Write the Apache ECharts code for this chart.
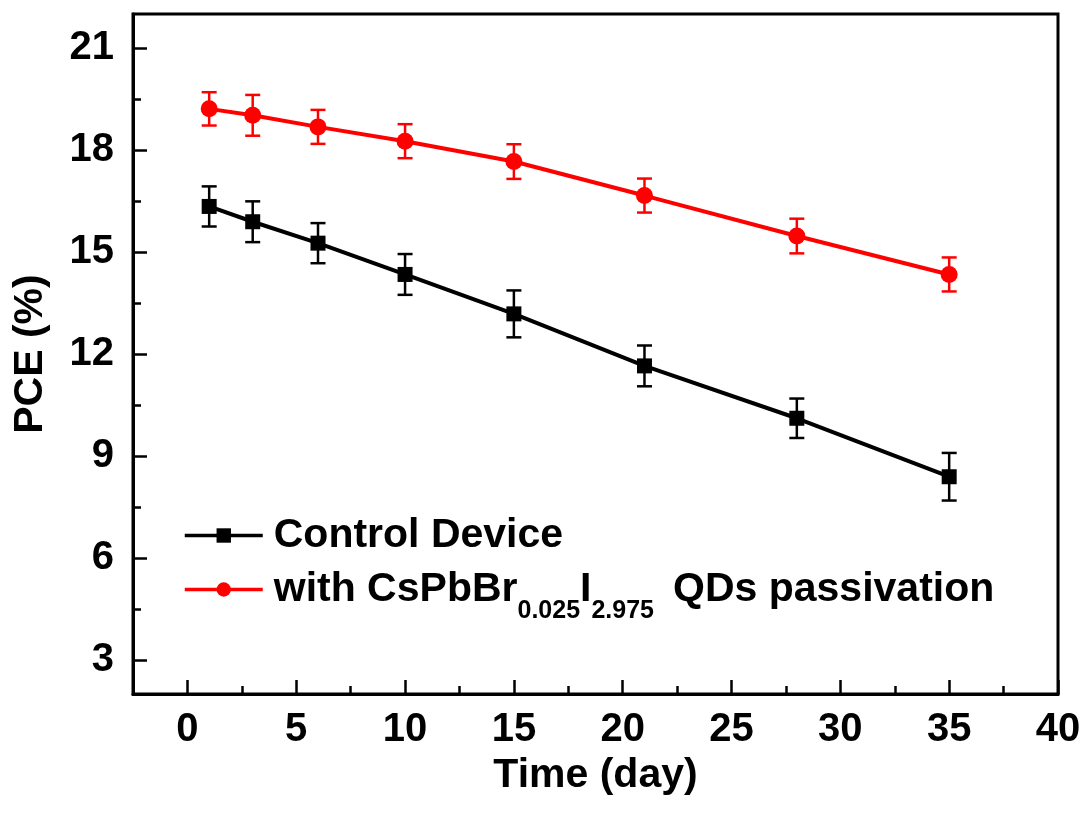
<!DOCTYPE html>
<html>
<head>
<meta charset="utf-8">
<script src="https://cdn.jsdelivr.net/npm/echarts@6/dist/echarts.min.js"></script>
<style>
html,body{margin:0;padding:0;background:#fff;}
#chart{width:1085px;height:822px;}
</style>
</head>
<body>
<div id="chart"></div>
<script>
var days = [1, 3, 6, 10, 15, 21, 28, 35];
var controlPCE = [16.34, 15.89, 15.26, 14.34, 13.18, 11.65, 10.11, 8.39];
var controlErr = [0.59, 0.60, 0.59, 0.60, 0.69, 0.60, 0.58, 0.70];
var passPCE = [19.21, 19.02, 18.68, 18.26, 17.66, 16.66, 15.47, 14.34];
var passErr = [0.49, 0.60, 0.50, 0.50, 0.51, 0.50, 0.51, 0.50];
var xMajorTicks = [0, 5, 10, 15, 20, 25, 30, 35, 40];
var xMinorTicks = [2.5, 7.5, 12.5, 17.5, 22.5, 27.5, 32.5, 37.5];
var yMajorTicks = [3, 6, 9, 12, 15, 18, 21];
var yMinorTicks = [4.5, 7.5, 10.5, 13.5, 16.5, 19.5];

var FONT = '"Liberation Sans", Arial, sans-serif';

function pairs(vals) { return days.map(function (d, i) { return [d, vals[i]]; }); }
function errs(vals, e) { return days.map(function (d, i) { return [d, vals[i] - e[i], vals[i] + e[i]]; }); }

function errRender(color) {
  return function (params, api) {
    var x = api.value(0);
    var lo = api.coord([x, api.value(1)]);
    var hi = api.coord([x, api.value(2)]);
    var hw = 7.5;
    var st = { stroke: color, lineWidth: 2.5 };
    return {
      type: 'group',
      children: [
        { type: 'line', shape: { x1: lo[0], y1: lo[1], x2: hi[0], y2: hi[1] }, style: st },
        { type: 'line', shape: { x1: lo[0] - hw, y1: lo[1], x2: lo[0] + hw, y2: lo[1] }, style: st },
        { type: 'line', shape: { x1: hi[0] - hw, y1: hi[1], x2: hi[0] + hw, y2: hi[1] }, style: st }
      ]
    };
  };
}

var chart = echarts.init(document.getElementById('chart'));
var option = {
  backgroundColor: '#ffffff',
  animation: false,
  textStyle: { fontFamily: FONT },
  grid: {
    left: 133, right: 27, top: 14, bottom: 128,
    show: true, borderColor: '#000', borderWidth: 3, backgroundColor: 'transparent'
  },
  legend: {
    orient: 'vertical',
    left: 183, top: 515,
    padding: 0,
    itemWidth: 78, itemHeight: 18, itemGap: -1,
    lineStyle: { width: 3.5 },
    data: ['Control Device', 'with CsPbBr0.025I2.975 QDs passivation'],
    formatter: function (name) {
      if (name === 'Control Device') return '{f|Control Device}';
      return '{f|with CsPbBr}{s|0.025}{a|I}{s|2.975}{q|QDs passivation}';
    },
    textStyle: {
      color: '#000',
      rich: {
        f: { fontFamily: FONT, fontWeight: 'bold', fontSize: 41, color: '#000', lineHeight: 44, padding: [0, 0, 0, 6] },
        a: { fontFamily: FONT, fontWeight: 'bold', fontSize: 41, color: '#000', lineHeight: 44 },
        q: { fontFamily: FONT, fontWeight: 'bold', fontSize: 41, color: '#000', lineHeight: 44, padding: [0, 0, 0, 19] },
        s: { fontFamily: FONT, fontWeight: 'bold', fontSize: 25, color: '#000', lineHeight: 25, padding: [44, 0, 0, 0] }
      }
    }
  },
  xAxis: [{
    type: 'value', position: 'bottom', min: -2.5, max: 40,
    name: 'Time (day)', nameLocation: 'middle', nameGap: 59,
    nameTextStyle: { fontFamily: FONT, fontWeight: 'bold', fontSize: 41, color: '#000' },
    axisLine: { show: true, onZero: false, lineStyle: { color: '#000', width: 3 } },
    axisTick: { show: true, inside: true, length: 14, lineStyle: { color: '#000', width: 2.5 }, customValues: xMajorTicks },
    axisLabel: { show: true, margin: 16, fontFamily: FONT, fontWeight: 'bold', fontSize: 40, color: '#000', customValues: xMajorTicks },
    splitLine: { show: false }
  }, {
    type: 'value', position: 'bottom', min: -2.5, max: 40,
    axisLine: { show: false, onZero: false },
    axisTick: { show: true, inside: true, length: 8, lineStyle: { color: '#000', width: 2.5 }, customValues: xMinorTicks },
    axisLabel: { show: false, customValues: xMinorTicks },
    splitLine: { show: false }
  }],
  yAxis: [{
    type: 'value', position: 'left', min: 2, max: 22,
    name: 'PCE (%)', nameLocation: 'middle', nameGap: 82,
    nameTextStyle: { fontFamily: FONT, fontWeight: 'bold', fontSize: 41, color: '#000' },
    axisLine: { show: true, onZero: false, lineStyle: { color: '#000', width: 3 } },
    axisTick: { show: true, inside: true, length: 14, lineStyle: { color: '#000', width: 2.5 }, customValues: yMajorTicks },
    axisLabel: { show: true, margin: 19, fontFamily: FONT, fontWeight: 'bold', fontSize: 40, color: '#000', customValues: yMajorTicks },
    splitLine: { show: false }
  }, {
    type: 'value', position: 'left', min: 2, max: 22,
    axisLine: { show: false, onZero: false },
    axisTick: { show: true, inside: true, length: 8, lineStyle: { color: '#000', width: 2.5 }, customValues: yMinorTicks },
    axisLabel: { show: false, customValues: yMinorTicks },
    splitLine: { show: false }
  }],
  series: [{
    type: 'custom', name: 'ctrlErr', xAxisIndex: 0, yAxisIndex: 0,
    renderItem: errRender('#000'), data: errs(controlPCE, controlErr),
    encode: { x: 0, y: [1, 2] }, z: 3, silent: true
  }, {
    type: 'custom', name: 'passErr', xAxisIndex: 0, yAxisIndex: 0,
    renderItem: errRender('#ff0000'), data: errs(passPCE, passErr),
    encode: { x: 0, y: [1, 2] }, z: 3, silent: true
  }, {
    type: 'line', name: 'Control Device', xAxisIndex: 0, yAxisIndex: 0,
    data: pairs(controlPCE),
    symbol: 'rect', symbolSize: 15,
    lineStyle: { color: '#000', width: 4 },
    itemStyle: { color: '#000' }, z: 4
  }, {
    type: 'line', name: 'with CsPbBr0.025I2.975 QDs passivation', xAxisIndex: 0, yAxisIndex: 0,
    data: pairs(passPCE),
    symbol: 'circle', symbolSize: 17,
    lineStyle: { color: '#ff0000', width: 4 },
    itemStyle: { color: '#ff0000' }, z: 4
  }]
};
chart.setOption(option);
</script>
</body>
</html>
